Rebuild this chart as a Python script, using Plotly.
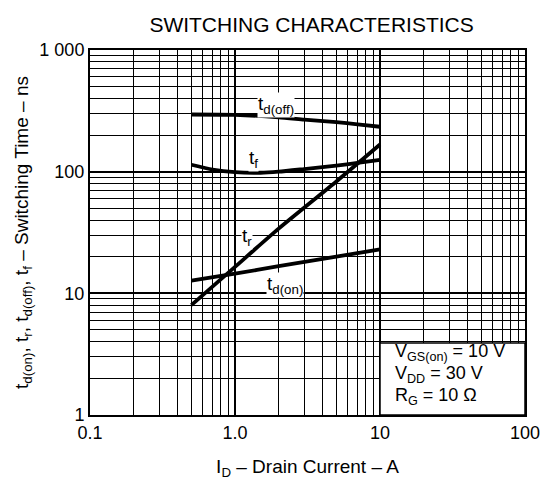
import math
import plotly.graph_objects as go

# ---- data ----
id_off = [0.5, 1.0, 2.0, 3.0, 5.0, 7.0, 10.0]
td_off = [295, 293, 280, 268, 255, 245, 234]

id_f = [0.5, 0.7, 1.0, 1.5, 2.0, 3.0, 5.0, 7.0, 10.0]
t_f = [114, 104, 99, 98, 100, 105, 112, 118, 125]

id_r = [0.5, 1.0, 2.0, 5.0, 10.0]
t_r = [8.0, 16.5, 34, 83, 167]

id_on = [0.5, 1.0, 2.0, 5.0, 10.0]
td_on = [12.7, 14.5, 16.7, 20.0, 23.0]

x_tickvals = [0.1, 1, 10, 100]
x_ticktext = ["0.1", "1.0", "10", "100"]
y_tickvals = [1, 10, 100, 1000]
y_ticktext = ["1", "10", "100", "1 000"]

conditions = ["V<sub>GS(on)</sub> = 10 V", "V<sub>DD</sub> = 30 V", "R<sub>G</sub> = 10 Ω"]

FONT = "Liberation Sans, Arial, Helvetica, sans-serif"

fig = go.Figure()
for xs, ys in [(id_off, td_off), (id_f, t_f), (id_r, t_r), (id_on, td_on)]:
    fig.add_trace(go.Scatter(x=xs, y=ys, mode="lines",
                             line=dict(color="black", width=3.8, shape="spline", smoothing=0.6),
                             showlegend=False, hoverinfo="skip"))

minor_x = [m * 10 ** e for e in (-1, 0, 1) for m in range(2, 10)]
minor_y = [m * 10 ** e for e in (0, 1, 2) for m in range(2, 10)]

fig.update_xaxes(type="log", range=[-1, 2], tickvals=x_tickvals, ticktext=x_ticktext,
                 showgrid=True, gridcolor="black", gridwidth=1.6,
                 minor=dict(tickvals=minor_x, showgrid=True, gridcolor="black", gridwidth=1.2, ticks=""),
                 showline=True, linecolor="black", linewidth=2, mirror=True, ticks="",
                 zeroline=False, tickfont=dict(size=18, color="black", family=FONT),
                 title=dict(text="I<sub>D</sub> – Drain Current – A", font=dict(size=19, color="black", family=FONT),
                            standoff=18))
fig.update_yaxes(type="log", range=[0, 3], tickvals=y_tickvals, ticktext=y_ticktext,
                 showgrid=True, gridcolor="black", gridwidth=1.6,
                 minor=dict(tickvals=minor_y, showgrid=True, gridcolor="black", gridwidth=1.2, ticks=""),
                 showline=True, linecolor="black", linewidth=2, mirror=True, ticks="",
                 zeroline=False, tickfont=dict(size=18, color="black", family=FONT),
                 title=dict(text="t<sub>d(on)</sub>, t<sub>r</sub>, t<sub>d(off)</sub>, t<sub>f</sub> – Switching Time – ns",
                            font=dict(size=19, color="black", family=FONT), standoff=6))

# condition box
fig.add_shape(type="rect", xref="x", yref="y", x0=10, x1=100, y0=1, y1=3.9,
              fillcolor="white", line=dict(color="black", width=1.5), layer="above")
for txt, yv in zip(conditions, [3.25, 2.15, 1.42]):
    fig.add_annotation(x=1.093, y=math.log10(yv), xref="x", yref="y", xanchor="left", yanchor="middle",
                       align="left", showarrow=False, text=txt,
                       font=dict(size=18, color="black", family=FONT))

labels = [
    (1.93, 352, "t<sub>d(off)</sub>"),
    (1.35, 126, "t<sub>f</sub>"),
    (1.21, 29, "t<sub>r</sub>"),
    (2.22, 11.8, "t<sub>d(on)</sub>"),
]
for lx, ly, txt in labels:
    fig.add_annotation(x=math.log10(lx), y=math.log10(ly), xref="x", yref="y", text=txt, showarrow=False,
                       font=dict(size=19, color="black", family=FONT), bgcolor="white", borderpad=0)

fig.update_layout(
    width=544, height=479,
    margin=dict(l=79, r=23, t=42, b=72),
    paper_bgcolor="white", plot_bgcolor="white",
    title=dict(text="SWITCHING CHARACTERISTICS", x=0.558, xanchor="center", y=0.966, yanchor="middle",
               font=dict(size=21, color="black", family=FONT)),
)

fig.write_html("out.html")
